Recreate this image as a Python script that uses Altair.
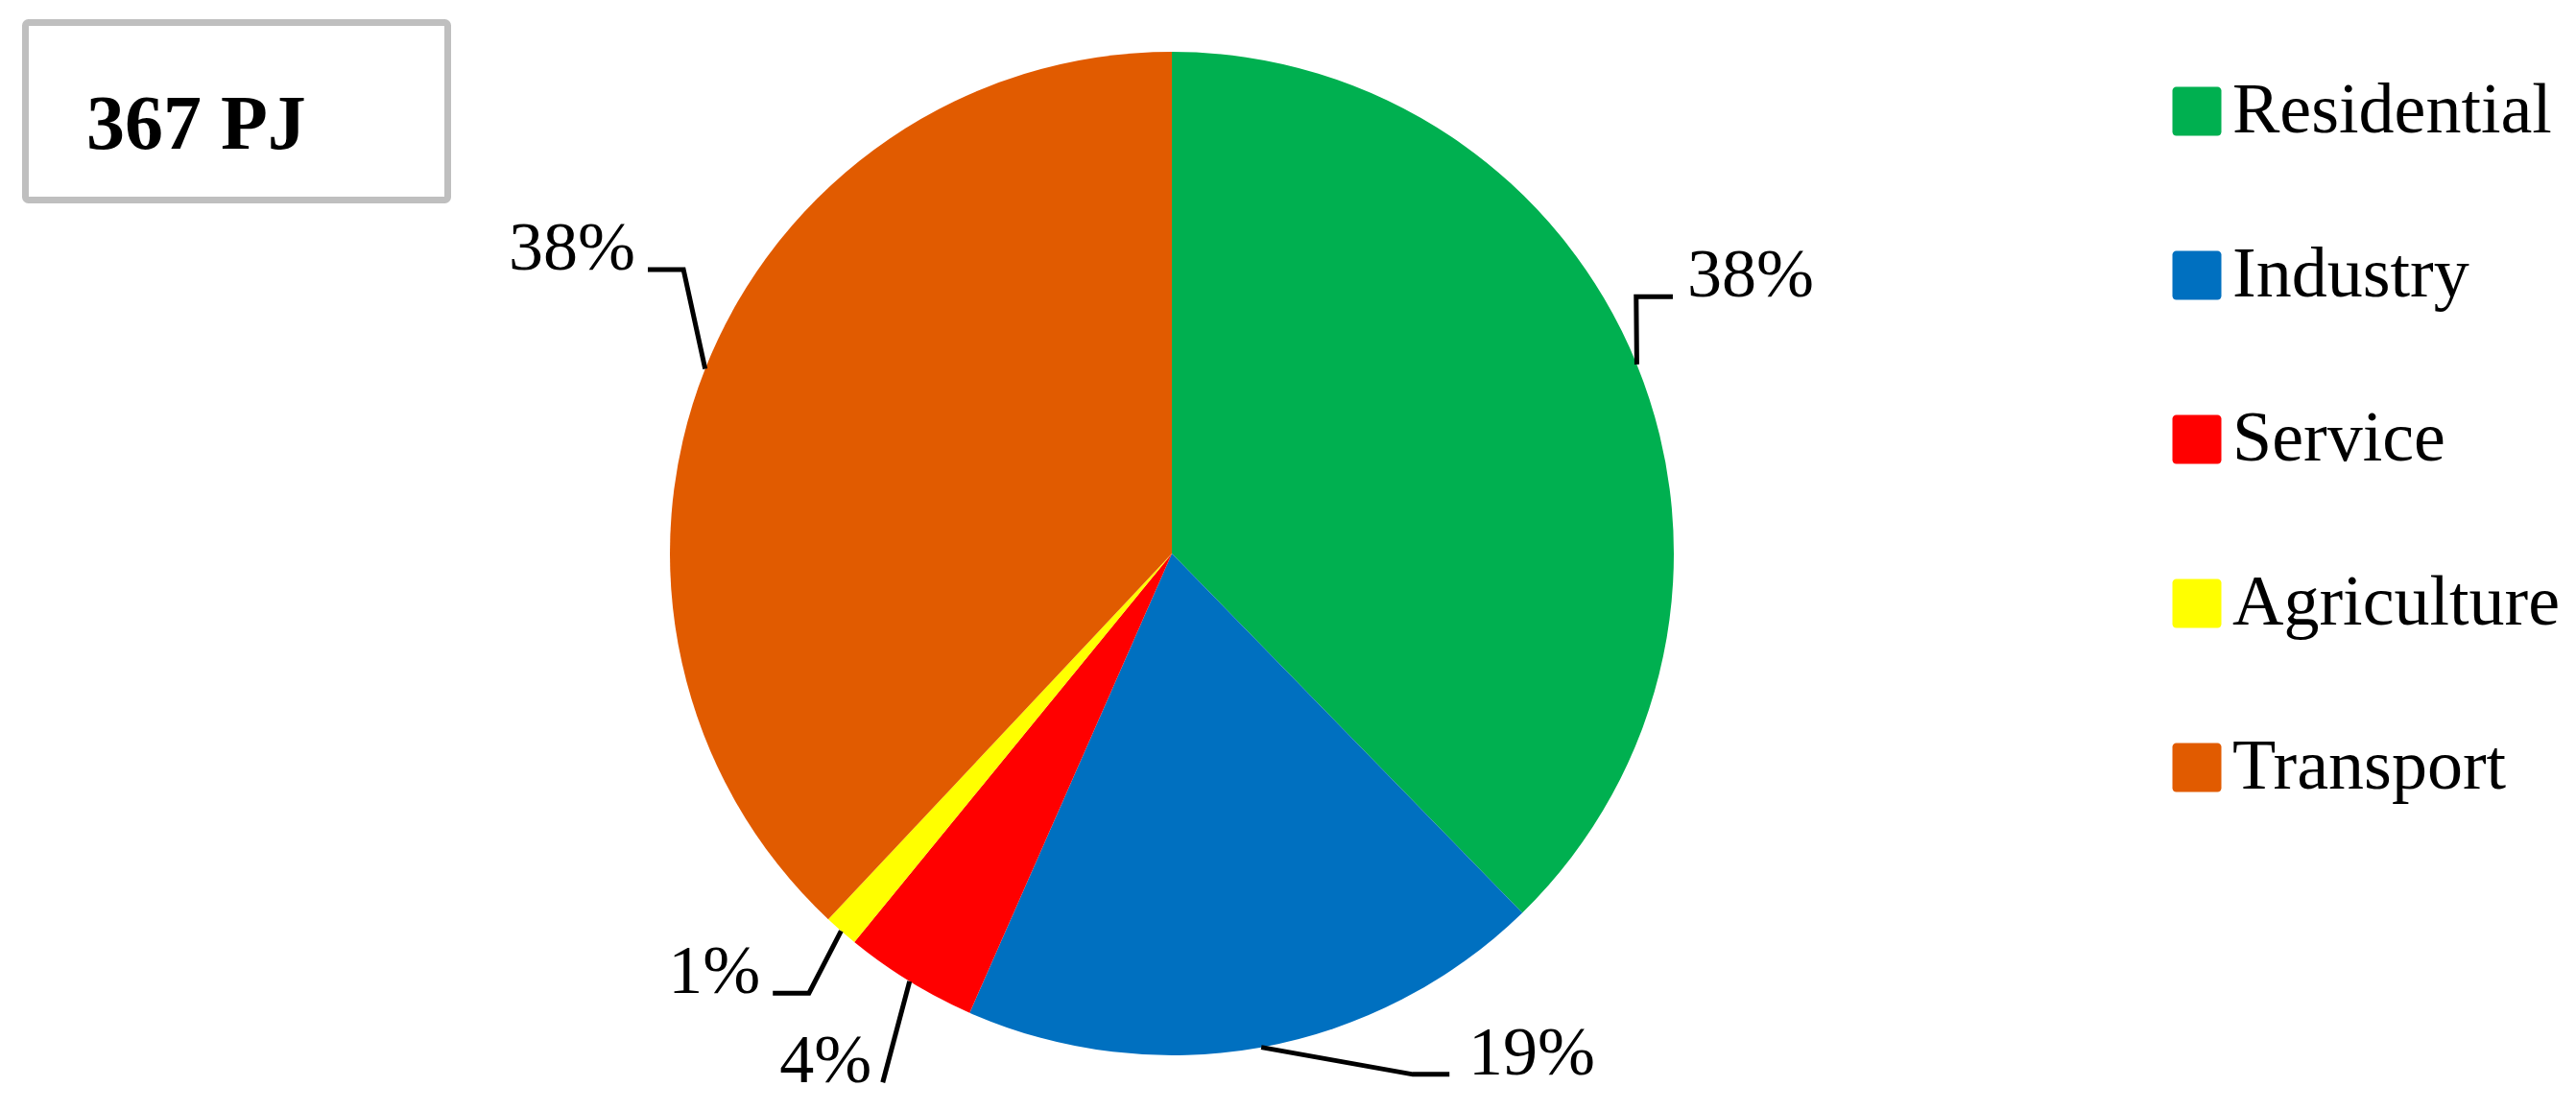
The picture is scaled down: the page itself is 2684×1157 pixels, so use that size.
import math
import altair as alt
import pandas as pd

# ---------------- data ----------------
categories = ["Residential", "Industry", "Service", "Agriculture", "Transport"]
shares = [37.7, 18.9, 4.3, 1.1, 38.0]
colors = ["#00B050", "#0070C0", "#FF0000", "#FFFF00", "#E15B00"]
total_label = "367 PJ"

# ---------------- layout ----------------
W, H = 2668, 1140          # view size (page margin 8px)
CX, CY, R = 1213, 569, 523  # pie centre (view px) and radius
# leader/label layout in pie units (radius = 1, y pointing up)
elbow_x = [0.925, 0.480, -0.576, -0.723, -0.973]
elbow_y = [0.512, -1.038, -1.054, -0.876, 0.566]
end_x = [0.998, 0.553, -0.576, -0.795, -1.044]
text_x = [1.027, 0.591, -0.598, -0.820, -1.069]
text_align = ["left", "left", "right", "right", "right"]

FONT = "Liberation Serif"
ROUNDED_SQUARE = ("M-0.84,-1H0.84A0.16,0.16 0 0 1 1,-0.84V0.84A0.16,0.16 0 0 1 0.84,1"
                  "H-0.84A0.16,0.16 0 0 1 -1,0.84V-0.84A0.16,0.16 0 0 1 -0.84,-1Z")

xs = alt.Scale(domain=[-CX / R, (W - CX) / R], nice=False, zero=False)
ys = alt.Scale(domain=[-(H - CY) / R, CY / R], nice=False, zero=False)

pie_df = pd.DataFrame({"category": categories, "share": shares,
                       "idx": list(range(len(categories)))})

total = sum(shares)
line_rows, label_rows = [], []
cum = 0.0
for i, (c, s) in enumerate(zip(categories, shares)):
    mid = (cum + s / 2) / total * 2 * math.pi
    cum += s
    sx, sy = math.sin(mid), math.cos(mid)
    line_rows += [
        {"category": c, "k": 0, "x": sx, "y": sy},
        {"category": c, "k": 1, "x": elbow_x[i], "y": elbow_y[i]},
        {"category": c, "k": 2, "x": end_x[i], "y": elbow_y[i]},
    ]
    label_rows.append({"category": c, "label": f"{round(s)}%", "x": text_x[i],
                       "y": elbow_y[i], "align": text_align[i]})
line_df = pd.DataFrame(line_rows)
label_df = pd.DataFrame(label_rows)

legend = alt.Legend(
    orient="none", legendX=2244, legendY=71, title=None,
    symbolType=ROUNDED_SQUARE, symbolSize=2601, symbolStrokeWidth=0,
    symbolOpacity=1, labelFont=FONT, labelFontSize=74, labelColor="black",
    labelOffset=0, rowPadding=97, labelLimit=1000,
)

pie = alt.Chart(pie_df).mark_arc(outerRadius=R, x=CX, y=CY).encode(
    theta=alt.Theta("share:Q", stack=True),
    color=alt.Color("category:N", sort=categories,
                    scale=alt.Scale(domain=categories, range=colors), legend=legend),
    order=alt.Order("idx:Q"),
)

leaders = alt.Chart(line_df).mark_line(color="black", strokeWidth=5).encode(
    x=alt.X("x:Q", scale=xs, axis=None),
    y=alt.Y("y:Q", scale=ys, axis=None),
    detail="category:N",
    order="k:Q",
)

def label_layer(align):
    return alt.Chart(label_df).transform_filter(
        alt.datum.align == align
    ).mark_text(font=FONT, fontSize=72, align=align, baseline="alphabetic",
                color="black").encode(
        x=alt.X("x:Q", scale=xs, axis=None),
        y=alt.Y("y:Q", scale=ys, axis=None),
        text="label:N",
    )

box = alt.Chart(pd.DataFrame({"t": [total_label]})).mark_rect(
    fill="white", stroke="#BFBFBF", strokeWidth=7, cornerRadius=3
).encode(x=alt.value(18.5), x2=alt.value(458.5), y=alt.value(15.5), y2=alt.value(200.5))

title = alt.Chart(pd.DataFrame({"t": [total_label]})).mark_text(
    font=FONT, fontSize=80, fontWeight="bold", align="left", baseline="alphabetic",
    color="black"
).encode(x=alt.value(82), y=alt.value(147), text="t:N")

chart = alt.layer(box, title, pie, leaders, label_layer("left"), label_layer("right")).properties(
    width=W, height=H, autosize=alt.AutoSizeParams(type="none"), padding=0,
    background="white",
).configure_view(stroke=None)

chart.save("out.html", embed_options={"renderer": "svg", "actions": False})
